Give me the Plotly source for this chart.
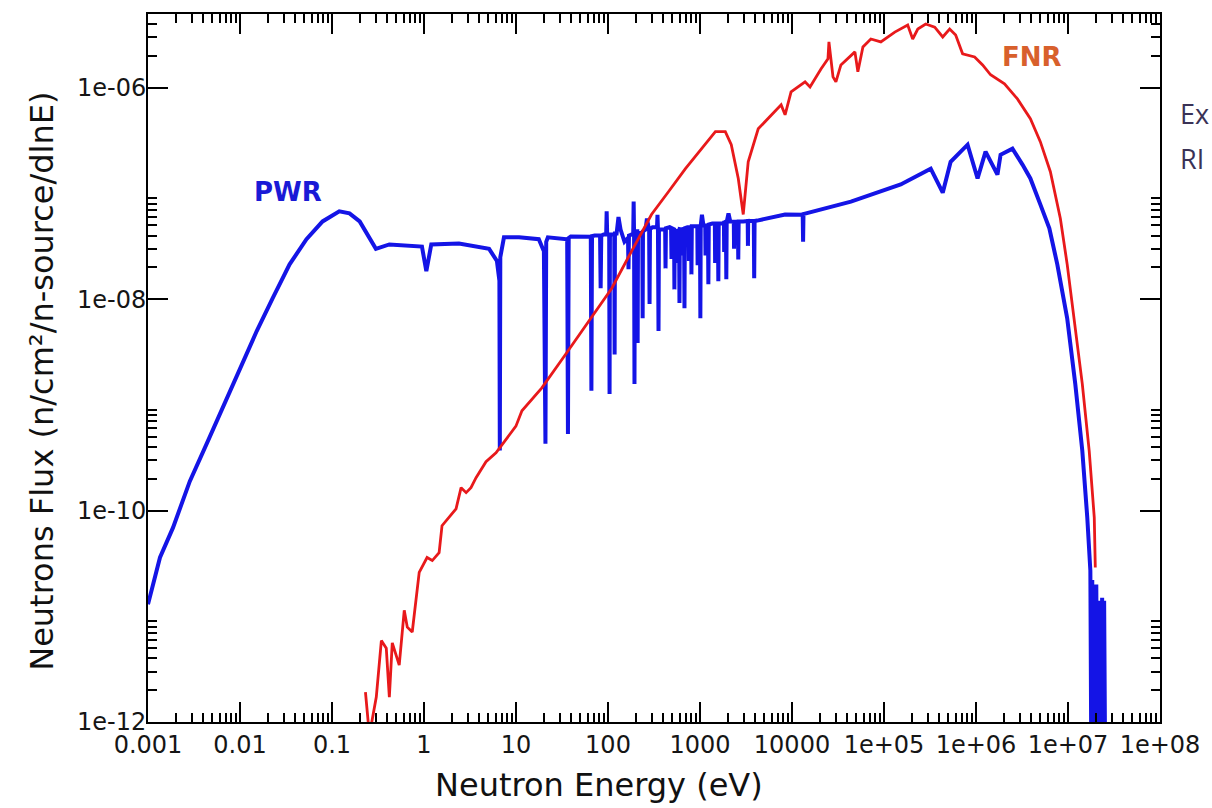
import math
import plotly.graph_objects as go

# ---------------- data ----------------
# PWR spectrum, thermal part (eV, n/cm2/n-source/dlnE)
pwr_thermal_energy = [
    1.0e-3, 1.35e-3, 1.87e-3, 2.85e-3, 4.35e-3, 6.5e-3, 9.9e-3, 0.0152, 0.0226, 0.0346,
    0.0528, 0.079, 0.12, 0.155, 0.2, 0.30, 0.42, 0.69, 0.95, 1.06,
    1.2, 2.4, 5.1, 6.2,
]
pwr_thermal_flux = [
    1.3e-11, 3.6e-11, 6.9e-11, 1.9e-10, 4.3e-10, 9.4e-10, 2.1e-9, 5.0e-9, 1.02e-8, 2.14e-8,
    3.7e-8, 5.45e-8, 6.8e-8, 6.5e-8, 5.45e-8, 3.0e-8, 3.3e-8, 3.2e-8, 3.15e-8, 1.84e-8,
    3.3e-8, 3.37e-8, 3.0e-8, 2.3e-8,
]

# PWR spectrum, resonance region (one row per resonance group)
pwr_resonance_energy = [
    6.6, 6.67, 6.75, 7.4, 10.8, 17.7,
    20.1, 20.9, 21.3, 22.2, 33.0,
    36.0, 36.7, 37.4, 39.4, 61.7,
    65.0, 66.0, 67.0, 71.6,
    82.0, 83.2, 84.5, 89.7,
    95.5, 96.7, 98.0,
    103, 104, 105, 110,
    117, 118, 119, 124, 130, 137, 151,
    165, 167, 169, 180,
    188, 190, 192, 194, 196, 204,
    208, 210, 212, 220,
    236, 238, 240, 256, 265,
    280, 283, 286, 305,
    341, 345, 349, 354, 358, 381,
    418, 422, 426, 466, 485, 490, 495,
    522, 527, 532, 555, 568, 572, 576,
    592, 598, 604, 628, 645, 650, 655,
    671, 678, 685, 730, 752, 758, 764,
    799, 807, 815, 891, 935, 942, 949,
    999, 1009, 1019, 1050, 1089, 1140, 1148, 1156,
    1220, 1233, 1246, 1361, 1450, 1460, 1470,
    1566, 1582, 1598, 1750, 1820, 1830, 1840,
    1913, 1932, 1951, 2040, 2133, 2330, 2345, 2360,
    2580, 2606, 2632, 2951, 3300, 3320, 3340,
    3843, 3882, 3921, 4188, 8410,
    13070, 13200, 13330, 14200,
]
pwr_resonance_flux = [
    1.5e-8, 3.7e-10, 2.5e-8, 3.85e-8, 3.85e-8, 3.7e-8,
    2.84e-8, 4.3e-10, 3.5e-8, 3.85e-8, 3.76e-8,
    3.7e-8, 5.3e-10, 3.8e-8, 3.93e-8, 3.93e-8,
    3.9e-8, 1.36e-9, 3.95e-8, 4.0e-8,
    4.0e-8, 1.27e-8, 4.0e-8, 4.1e-8,
    4.1e-8, 6.8e-8, 4.1e-8,
    4.1e-8, 1.27e-9, 4.1e-8, 4.1e-8,
    4.1e-8, 3.0e-9, 4.2e-8, 4.2e-8, 6.0e-8, 4.57e-8, 3.5e-8,
    3.8e-8, 1.92e-8, 4.0e-8, 4.1e-8,
    4.2e-8, 8.4e-8, 4.2e-8, 1.58e-9, 4.3e-8, 4.4e-8,
    4.4e-8, 3.85e-9, 4.3e-8, 4.2e-8,
    4.3e-8, 6.6e-9, 4.4e-8, 4.57e-8, 5.8e-8,
    4.5e-8, 9.0e-9, 4.6e-8, 4.8e-8,
    4.8e-8, 6.3e-8, 4.7e-8, 5.0e-9, 4.6e-8, 4.57e-8,
    4.6e-8, 1.96e-8, 4.7e-8, 4.8e-8, 4.7e-8, 2.4e-8, 4.7e-8,
    4.6e-8, 1.24e-8, 4.5e-8, 4.4e-8, 4.5e-8, 2.2e-8, 4.6e-8,
    4.5e-8, 9.2e-9, 4.6e-8, 4.57e-8, 4.6e-8, 2.6e-8, 4.7e-8,
    4.6e-8, 8.2e-9, 4.7e-8, 4.8e-8, 4.8e-8, 2.3e-8, 4.8e-8,
    4.8e-8, 1.72e-8, 4.9e-8, 4.9e-8, 4.9e-8, 2.1e-8, 4.9e-8,
    4.9e-8, 6.6e-9, 5.0e-8, 6.3e-8, 5.0e-8, 5.0e-8, 2.6e-8, 5.0e-8,
    5.0e-8, 1.39e-8, 5.1e-8, 5.2e-8, 5.2e-8, 2.2e-8, 5.2e-8,
    5.2e-8, 1.48e-8, 5.2e-8, 5.2e-8, 5.3e-8, 2.8e-8, 5.3e-8,
    5.3e-8, 1.55e-8, 5.4e-8, 6.5e-8, 5.45e-8, 5.4e-8, 3.0e-8, 5.4e-8,
    5.4e-8, 2.38e-8, 5.45e-8, 5.45e-8, 5.5e-8, 3.2e-8, 5.5e-8,
    5.5e-8, 1.58e-8, 5.5e-8, 5.55e-8, 6.34e-8,
    6.3e-8, 3.5e-8, 6.4e-8, 6.5e-8,
]

# PWR spectrum, fast part
pwr_fast_energy = [
    43700, 1.52e5, 3.22e5, 4.35e5, 5.3e5, 8.1e5, 1.04e6, 1.27e6, 1.71e6, 1.85e6,
    2.49e6, 3.2e6, 3.9e6, 5.0e6, 6.27e6, 7.65e6, 9.8e6, 1.2e7, 1.43e7, 1.62e7,
    1.75e7, 1.79e7, 1.835e7, 1.88e7, 1.93e7, 1.98e7, 2.03e7, 2.08e7, 2.13e7, 2.18e7,
    2.24e7, 2.29e7, 2.35e7, 2.41e7, 2.47e7, 2.53e7,
]
pwr_fast_flux = [
    8.4e-8, 1.22e-7, 1.72e-7, 1.02e-7, 2.0e-7, 2.9e-7, 1.39e-7, 2.49e-7, 1.51e-7, 2.33e-7,
    2.66e-7, 1.88e-7, 1.39e-7, 7.9e-8, 4.68e-8, 2.14e-8, 6.6e-9, 1.58e-9, 3.7e-10, 8.6e-11,
    2.7e-11, 5e-13, 2.2e-11, 5e-13, 1.9e-11, 5e-13, 2.0e-11, 5e-13, 1.4e-11, 5e-13,
    8e-12, 5e-13, 1.5e-11, 5e-13, 1.4e-11, 5e-13,
]

# FNR spectrum
fnr_energy = [
    0.231, 0.255, 0.303, 0.344, 0.389, 0.42, 0.452, 0.538, 0.61, 0.658,
    0.745, 0.887, 1.08, 1.23, 1.46, 1.57, 2.23, 2.53, 2.87, 3.24,
    3.68, 4.72, 6.06, 9.98, 11.6, 19.1, 34.8, 51.8, 110, 180,
    297, 454, 695, 1470, 1884, 2188, 2606, 2951, 3342, 4295,
    6560, 7620, 8410, 9770, 13870, 15700, 20650, 24600, 25200, 27900,
    30000, 34000, 48300, 52000, 59000, 71900, 92400, 1.31e5, 1.81e5, 2.05e5,
    2.33e5, 2.84e5, 3.56e5, 4.35e5, 5.17e5, 6.01e5, 7.15e5, 8.1e5, 9.66e5, 1.18e6,
    1.44e6, 2.04e6, 2.82e6, 3.9e6, 5.0e6, 6.43e6, 8.26e6, 9.8e6, 1.17e7, 1.43e7,
    1.7e7, 1.93e7, 1.98e7,
]
fnr_flux = [
    1.92e-12, 7.5e-13, 1.72e-12, 5.9e-12, 5.0e-12, 1.72e-12, 5.6e-12, 3.45e-12, 1.14e-11, 7.9e-12,
    7.1e-12, 2.6e-11, 3.6e-11, 3.37e-11, 4.0e-11, 7.2e-11, 1.04e-10, 1.65e-10, 1.48e-10, 1.65e-10,
    2.05e-10, 2.9e-10, 3.52e-10, 6.3e-10, 8.8e-10, 1.45e-9, 3.03e-9, 4.99e-9, 1.27e-8, 2.84e-8,
    6.34e-8, 1.04e-7, 1.72e-7, 3.85e-7, 3.85e-7, 2.9e-7, 1.39e-7, 6.34e-8, 2.0e-7, 4.1e-7,
    5.94e-7, 6.9e-7, 5.56e-7, 9.16e-7, 1.14e-6, 1.02e-6, 1.51e-6, 1.88e-6, 2.72e-6, 1.27e-6,
    1.14e-6, 1.65e-6, 2.19e-6, 1.42e-6, 2.44e-6, 2.9e-6, 2.72e-6, 3.37e-6, 3.93e-6, 2.9e-6,
    3.6e-6, 4.02e-6, 3.76e-6, 3.03e-6, 3.6e-6, 3.16e-6, 2.1e-6, 2.05e-6, 1.96e-6, 1.65e-6,
    1.33e-6, 1.09e-6, 7.87e-7, 5.1e-7, 3.1e-7, 1.61e-7, 5.8e-8, 2.14e-8, 6.6e-9, 1.58e-9,
    3.68e-10, 8.6e-11, 2.9e-11,
]

x_tick_values = [1e-3, 1e-2, 1e-1, 1, 10, 100, 1e3, 1e4, 1e5, 1e6, 1e7, 1e8]
x_tick_labels = ["0.001", "0.01", "0.1", "1", "10", "100", "1000", "10000",
                 "1e+05", "1e+06", "1e+07", "1e+08"]
y_tick_values = [1e-12, 1e-10, 1e-8, 1e-6]
y_tick_labels = ["1e-12", "1e-10", "1e-08", "1e-06"]

x_title = "Neutron Energy (eV)"
y_title = "Neutrons Flux (n/cm²/n-source/dlnE)"

# ---------------- figure ----------------
pwr_energy = pwr_thermal_energy + pwr_resonance_energy + pwr_fast_energy
pwr_flux = pwr_thermal_flux + pwr_resonance_flux + pwr_fast_flux
assert len(pwr_energy) == len(pwr_flux)
assert len(fnr_energy) == len(fnr_flux)

x_minor = [k * 10.0 ** p for p in range(-3, 8) for k in range(2, 10)]
y_minor = [k * 10.0 ** p for p in (-12, -10, -8, -6) for k in range(2, 10)
           if k * 10.0 ** p < 5e-6]

fig = go.Figure()
fig.add_trace(go.Scatter(x=pwr_energy, y=pwr_flux, mode="lines",
                         line=dict(color="#1414e6", width=4), name="PWR"))
fig.add_trace(go.Scatter(x=fnr_energy, y=fnr_flux, mode="lines",
                         line=dict(color="#e8191b", width=2.8), name="FNR"))

common = dict(type="log", showline=True, linewidth=2, linecolor="black",
              mirror="allticks", ticks="inside", ticklen=20, tickwidth=1.5,
              tickcolor="black", showgrid=False, zeroline=False)

fig.update_xaxes(range=[-3, 8], tickmode="array", tickvals=x_tick_values,
                 ticktext=x_tick_labels,
                 tickfont=dict(family="DejaVu Sans", size=24, color="#151515"),
                 minor=dict(tickmode="array", tickvals=x_minor, ticks="inside",
                            ticklen=9, tickwidth=1.5, tickcolor="black", showgrid=False),
                 **common)
fig.update_yaxes(range=[-12, math.log10(5e-6)], tickmode="array",
                 tickvals=y_tick_values, ticktext=y_tick_labels,
                 tickfont=dict(family="DejaVu Sans", size=24, color="#151515"),
                 ticklabelstandoff=-5,
                 minor=dict(tickmode="array", tickvals=y_minor, ticks="inside",
                            ticklen=9, tickwidth=1.5, tickcolor="black", showgrid=False),
                 **common)

title_font = dict(family="DejaVu Sans", size=32, color="#111111")
annotations = [
    dict(text=x_title, xref="paper", yref="paper", x=0.446, y=-0.089,
         xanchor="center", yanchor="middle", showarrow=False, font=title_font),
    dict(text=y_title, xref="paper", yref="paper", x=-0.1044, y=0.481,
         xanchor="center", yanchor="middle", textangle=-90, showarrow=False,
         font=title_font),
    dict(text="<b>PWR</b>", xref="paper", yref="paper", x=0.138, y=0.749,
         xanchor="center", yanchor="middle", showarrow=False,
         font=dict(family="DejaVu Sans", size=26, color="#1a1ad6")),
    dict(text="<b>FNR</b>", xref="paper", yref="paper", x=0.874, y=0.939,
         xanchor="center", yanchor="middle", showarrow=False,
         font=dict(family="DejaVu Sans", size=26, color="#d8602c")),
    dict(text="Ex", xref="paper", yref="paper", x=1.0177, y=0.859,
         xanchor="left", yanchor="middle", showarrow=False,
         font=dict(family="Open Sans", size=27, color="#3a3256")),
    dict(text="RI", xref="paper", yref="paper", x=1.0177, y=0.796,
         xanchor="left", yanchor="middle", showarrow=False,
         font=dict(family="Open Sans", size=27, color="#3a3256")),
]

fig.update_layout(width=1212, height=808, margin=dict(l=148, r=49, t=13, b=86),
                  plot_bgcolor="white", paper_bgcolor="white", showlegend=False,
                  annotations=annotations)

fig.write_html("out.html")
